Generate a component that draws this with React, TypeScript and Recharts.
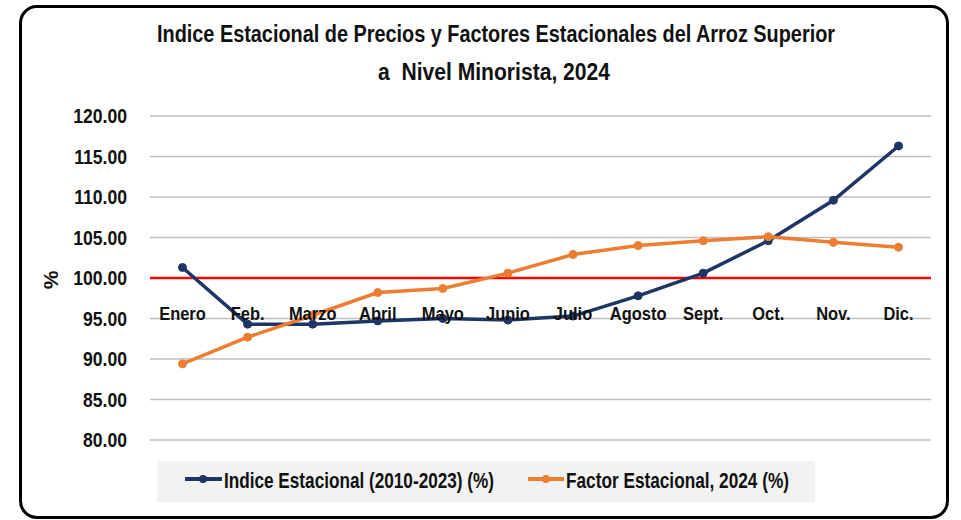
import React from "react";
import {
  LineChart,
  Line,
  XAxis,
  YAxis,
  CartesianGrid,
  ReferenceLine,
  LabelList,
} from "recharts";

const months = ["Enero", "Feb.", "Marzo", "Abril", "Mayo", "Junio", "Julio", "Agosto", "Sept.", "Oct.", "Nov.", "Dic."];
const indiceEstacional = [101.3, 94.3, 94.3, 94.7, 95.0, 94.8, 95.3, 97.8, 100.6, 104.6, 109.6, 116.3];
const factorEstacional = [89.4, 92.7, 95.4, 98.2, 98.7, 100.6, 102.9, 104.0, 104.6, 105.1, 104.4, 103.8];
const yTicks = [80, 85, 90, 95, 100, 105, 110, 115, 120];
const axisCross = 100;

const titleLines = ["Indice Estacional de Precios y Factores Estacionales del Arroz Superior", "a\u00a0\u00a0Nivel Minorista, 2024"];
const seriesNames = ["Indice Estacional (2010-2023) (%)", "Factor Estacional, 2024 (%)"];
const seriesColors = ["#1f3566", "#ed7d31"];

const data = months.map((m, i) => ({
  month: m,
  indice: indiceEstacional[i],
  factor: factorEstacional[i],
  base: axisCross,
}));

const FONT = '"Liberation Sans", Arial, sans-serif';

const MonthLabel = (props: any) => {
  const { x, y, value } = props;
  return (
    <text
      transform={`translate(${x},${y + 35}) scale(0.89,1)`}
      textAnchor="middle"
      dy="0.36em"
      fontFamily={FONT}
      fontWeight="bold"
      fontSize={18.5}
      fill="#111"
    >
      {value}
    </text>
  );
};

const YTick = (props: any) => {
  const { x, y, payload } = props;
  return (
    <text
      transform={`translate(${x},${y}) scale(0.88,1)`}
      textAnchor="end"
      dy="0.36em"
      fontFamily={FONT}
      fontWeight="bold"
      fontSize={20}
      fill="#111"
    >
      {Number(payload.value).toFixed(2)}
    </text>
  );
};

const TallText = (props: { x: number; y: number; width: number; size: number; anchor?: string; children: string }) => (
  <text
    transform={`translate(${props.x},${props.y}) scale(1,1.3)`}
    textAnchor={props.anchor || "start"}
    textLength={props.width}
    lengthAdjust="spacingAndGlyphs"
    fontFamily={FONT}
    fontWeight="bold"
    fontSize={props.size}
    fill="#111"
    style={{ whiteSpace: "pre" }}
  >
    {props.children}
  </text>
);

export default function App() {
  return (
    <div style={{ position: "absolute", left: 0, top: 0, width: 961, height: 520, background: "#fff", overflow: "hidden" }}>
      <div
        style={{
          position: "absolute",
          left: 19,
          top: 5,
          width: 930,
          height: 514,
          border: "3px solid #000",
          borderRadius: 18,
          boxSizing: "border-box",
        }}
      />
      <div style={{ position: "absolute", left: 0, top: 0 }}>
        <LineChart width={961} height={520} data={data} margin={{ top: 116, right: 30, bottom: 80, left: 90 }}>
          <CartesianGrid horizontal vertical={false} stroke="#bfbfbf" strokeWidth={1.5} />
          <XAxis dataKey="month" hide padding={{ left: 32.5, right: 32.5 }} />
          <YAxis
            width={60}
            domain={[80, 120]}
            ticks={yTicks}
            interval={0}
            axisLine={false}
            tickLine={false}
            tickSize={0}
            tickMargin={23}
            tick={YTick}
          />
          <ReferenceLine y={axisCross} stroke="#ff0000" strokeWidth={2.5} />
          <Line dataKey="base" stroke="none" dot={false} activeDot={false} isAnimationActive={false} legendType="none">
            <LabelList dataKey="month" content={MonthLabel} />
          </Line>
          <Line
            dataKey="indice"
            name={seriesNames[0]}
            stroke={seriesColors[0]}
            strokeWidth={3.5}
            dot={{ r: 4, fill: seriesColors[0], stroke: seriesColors[0], strokeWidth: 1 }}
            activeDot={false}
            isAnimationActive={false}
          />
          <Line
            dataKey="factor"
            name={seriesNames[1]}
            stroke={seriesColors[1]}
            strokeWidth={3.5}
            dot={{ r: 4, fill: seriesColors[1], stroke: seriesColors[1], strokeWidth: 1 }}
            activeDot={false}
            isAnimationActive={false}
          />
        </LineChart>
      </div>
      <svg width={961} height={520} style={{ position: "absolute", left: 0, top: 0, pointerEvents: "none" }}>
        <TallText x={496} y={42} width={678} size={18.5} anchor="middle">{titleLines[0]}</TallText>
        <TallText x={494} y={80} width={232} size={18.5} anchor="middle">{titleLines[1]}</TallText>
        <text
          transform="translate(50,280) rotate(-90)"
          textAnchor="middle"
          dy="0.36em"
          fontFamily={FONT}
          fontWeight="bold"
          fontSize={21}
          fill="#111"
        >
          %
        </text>
        <rect x={157} y={461} width={658} height={41} fill="#f2f2f2" />
        <line x1={185} y1={479} x2={222} y2={479} stroke={seriesColors[0]} strokeWidth={4} />
        <circle cx={203} cy={479} r={4} fill={seriesColors[0]} />
        <TallText x={224} y={488} width={270} size={16.5}>{seriesNames[0]}</TallText>
        <line x1={528} y1={479} x2={564} y2={479} stroke={seriesColors[1]} strokeWidth={4} />
        <circle cx={546} cy={479} r={4} fill={seriesColors[1]} />
        <TallText x={566} y={488} width={223} size={16.5}>{seriesNames[1]}</TallText>
      </svg>
    </div>
  );
}
